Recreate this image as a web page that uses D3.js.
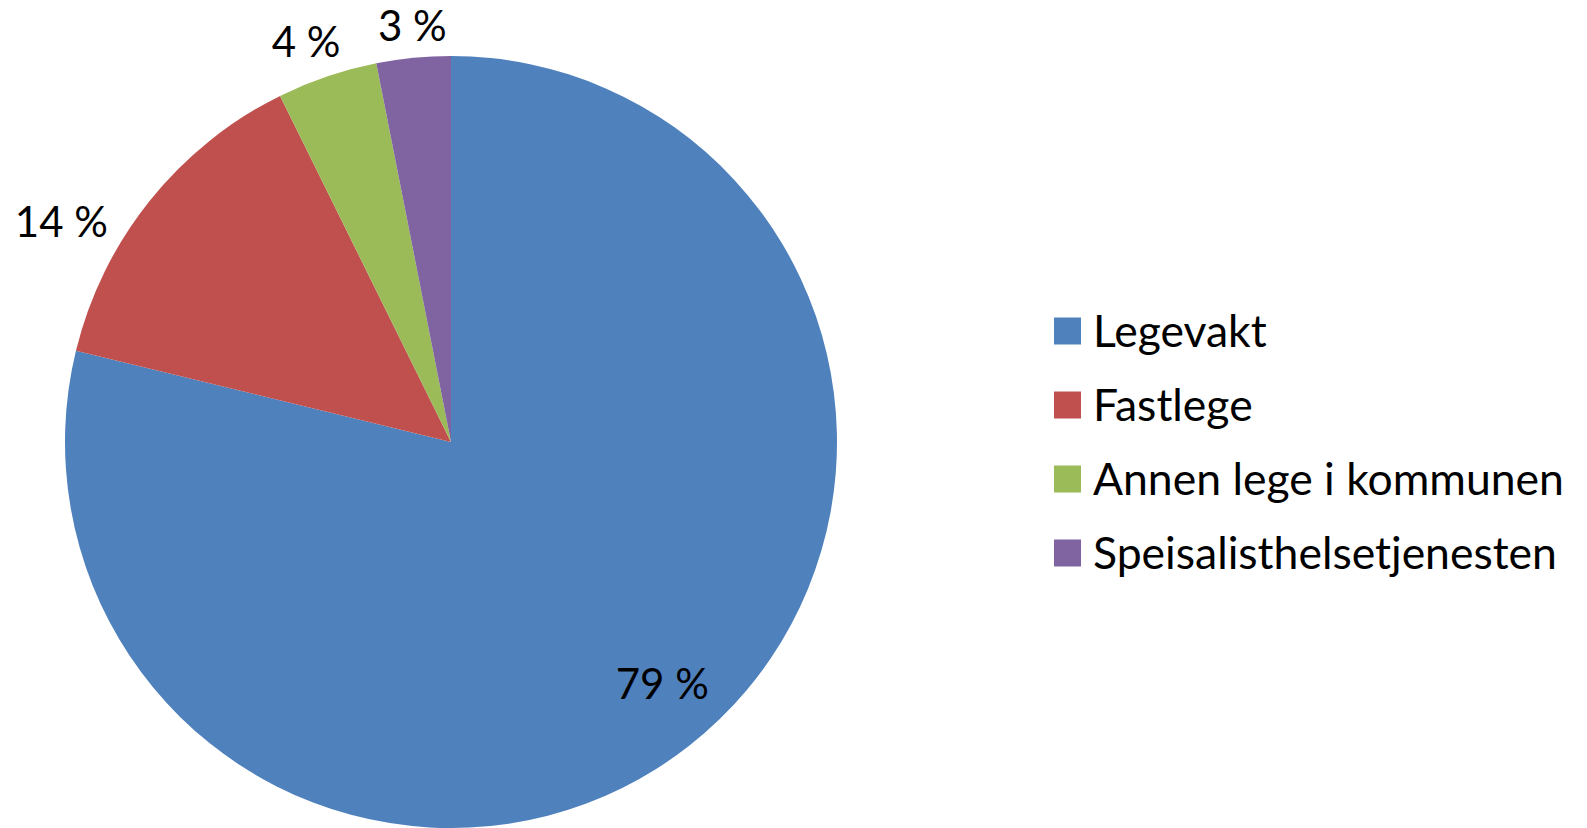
<!DOCTYPE html>
<html><head><meta charset="utf-8">
<script src="https://cdn.jsdelivr.net/npm/d3@7"></script>
<style>html,body{margin:0;padding:0;background:#fff;}svg{display:block;}</style>
</head><body>
<svg id="chart" width="1587" height="828"></svg>
<script>
const categories = ["Legevakt", "Fastlege", "Annen lege i kommunen", "Speisalisthelsetjenesten"];
const values = [78.8, 13.9, 4.2, 3.1];
const labels = ["79 %", "14 %", "4 %", "3 %"];
const colors = ["#4F81BD", "#C0504D", "#9BBB59", "#8064A2"];

const W = 1587, H = 828;
const cx = 451, cy = 442, R = 386;
const font = "Lato, 'Open Sans', sans-serif";
const svg = d3.select("#chart");

const data = categories.map((c, i) => ({cat: c, value: values[i], label: labels[i], color: colors[i]}));
const pie = d3.pie().sort(null).value(d => d.value);
const arcs = pie(data);
const arc = d3.arc().innerRadius(0).outerRadius(R);

const g = svg.append("g").attr("transform", `translate(${cx},${cy})`);
g.selectAll("path").data(arcs).join("path")
  .attr("d", arc).attr("fill", d => d.data.color);

// label placement: radius factor and angle nudge (radians) per slice
const labelLayout = [
  {k: 0.83, da: -0.054},
  {k: 1.16, da: -0.16},
  {k: 1.105, da: -0.02},
  {k: 1.085, da: 0.005}
];
g.selectAll("text.lbl").data(arcs).join("text")
  .attr("class", "lbl")
  .attr("x", (d, i) => { const a = (d.startAngle + d.endAngle) / 2 + labelLayout[i].da; return Math.sin(a) * R * labelLayout[i].k; })
  .attr("y", (d, i) => { const a = (d.startAngle + d.endAngle) / 2 + labelLayout[i].da; return -Math.cos(a) * R * labelLayout[i].k; })
  .attr("text-anchor", "middle").attr("dominant-baseline", "central")
  .attr("font-family", font).attr("font-size", 42).attr("fill", "#000")
  .text(d => d.data.label);

// legend
const legY = d3.scalePoint().domain(categories).range([331, 553]);
const leg = svg.append("g");
const items = leg.selectAll("g").data(data).join("g")
  .attr("transform", d => `translate(1054,${legY(d.cat)})`);
items.append("rect").attr("x", 0).attr("y", -13.5).attr("width", 27).attr("height", 27)
  .attr("fill", d => d.color);
items.append("text").attr("x", 39).attr("y", -2).attr("dominant-baseline", "central")
  .attr("font-family", font).attr("font-size", 44.5).attr("fill", "#000")
  .text(d => d.cat);
</script>
</body></html>
